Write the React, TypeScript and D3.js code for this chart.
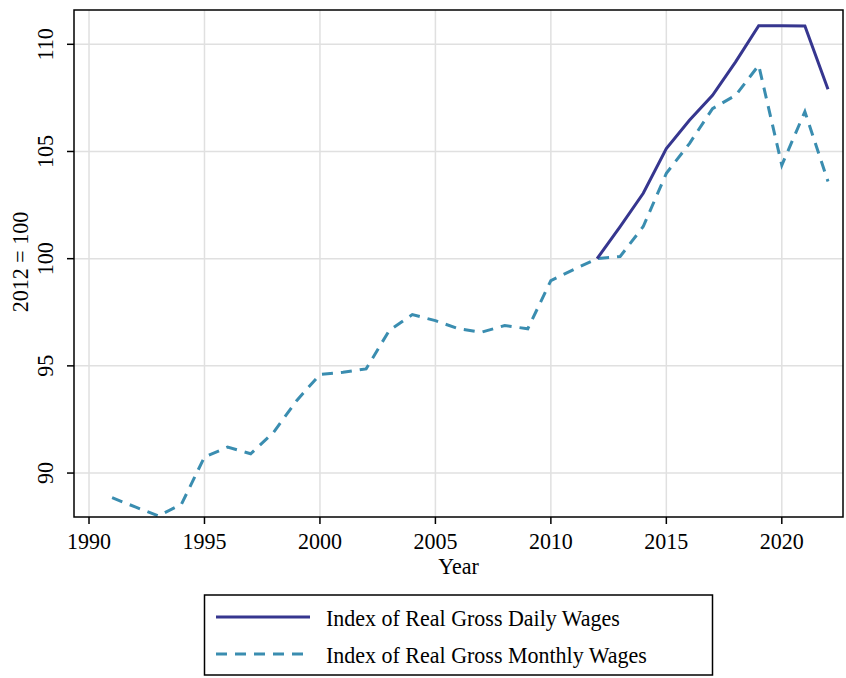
import * as d3 from "d3";

const years = d3.range(1991, 2023);
const monthly = [
  88.85, 88.42, 88.0, 88.54, 90.75, 91.21, 90.9, 91.91, 93.39, 94.6, 94.7,
  94.86, 96.65, 97.39, 97.11, 96.73, 96.57, 96.88, 96.73, 98.98, 99.5, 100.0,
  100.1, 101.5, 103.98, 105.37, 107.0, 107.62, 109.02, 104.36, 106.86, 103.6,
];
const dailyYears = d3.range(2012, 2023);
const daily = [
  100.0, 101.49, 103.05, 105.14, 106.46, 107.62, 109.18, 110.87, 110.87,
  110.85, 107.9,
];
const xTicks = [1990, 1995, 2000, 2005, 2010, 2015, 2020];
const yTicks = [90, 95, 100, 105, 110];
const legendLabels = [
  "Index of Real Gross Daily Wages",
  "Index of Real Gross Monthly Wages",
];

const W = 846,
  H = 678;
const left = 74,
  right = 843,
  top = 10,
  bottom = 517;
const font = "'Liberation Serif', 'Times New Roman', serif";
const dailyColor = "#36368f";
const monthlyColor = "#3a8db0";
const dash = "11,8";
const fs = 22;
// reference glyphs are a bit taller than wide
const stretch = "scale(1,1.07)";

export default function App() {
  const x = d3.scaleLinear().domain([1989.35, 2022.65]).range([left, right]);
  const y = d3.scaleLinear().domain([87.95, 111.6]).range([bottom, top]);

  const line = d3
    .line<[number, number]>()
    .x((d) => x(d[0]))
    .y((d) => y(d[1]));

  const monthlyPath = line(years.map((yr, i) => [yr, monthly[i]]));
  const dailyPath = line(dailyYears.map((yr, i) => [yr, daily[i]]));

  return (
    <svg
      width={W}
      height={H}
      style={{ position: "absolute", left: 0, top: 0, background: "#fff" }}
      fontFamily={font}
      fontSize={fs}
    >
      <rect width={W} height={H} fill="#fff" />
      {xTicks.map((t) => (
        <line
          key={"gx" + t}
          x1={x(t)}
          x2={x(t)}
          y1={top}
          y2={bottom}
          stroke="#e0e0e0"
          strokeWidth={1.5}
        />
      ))}
      {yTicks.map((t) => (
        <line
          key={"gy" + t}
          x1={left}
          x2={right}
          y1={y(t)}
          y2={y(t)}
          stroke="#e0e0e0"
          strokeWidth={1.5}
        />
      ))}
      <path
        d={monthlyPath || ""}
        fill="none"
        stroke={monthlyColor}
        strokeWidth={3}
        strokeDasharray={dash}
      />
      <path d={dailyPath || ""} fill="none" stroke={dailyColor} strokeWidth={3} />
      <rect
        x={left}
        y={top}
        width={right - left}
        height={bottom - top}
        fill="none"
        stroke="#000"
        strokeWidth={1.5}
      />
      {xTicks.map((t) => (
        <g key={"tx" + t}>
          <line
            x1={x(t)}
            x2={x(t)}
            y1={bottom}
            y2={bottom + 7}
            stroke="#000"
            strokeWidth={1.5}
          />
          <text
            transform={`translate(${x(t)},549) ${stretch}`}
            textAnchor="middle"
          >
            {t}
          </text>
        </g>
      ))}
      {yTicks.map((t) => (
        <g key={"ty" + t}>
          <line
            x1={left - 7}
            x2={left}
            y1={y(t)}
            y2={y(t)}
            stroke="#000"
            strokeWidth={1.5}
          />
          <text
            transform={`translate(53,${y(t)}) rotate(-90) ${stretch}`}
            textAnchor="middle"
          >
            {t}
          </text>
        </g>
      ))}
      <text
        transform={`translate(${(left + right) / 2},574) ${stretch}`}
        textAnchor="middle"
      >
        Year
      </text>
      <text
        transform={`translate(27.5,262) rotate(-90) ${stretch}`}
        textAnchor="middle"
      >
        2012 = 100
      </text>
      <rect
        x={204.5}
        y={595}
        width={508}
        height={80}
        fill="#fff"
        stroke="#000"
        strokeWidth={1.5}
      />
      {legendLabels.map((lab, i) => (
        <g key={lab} transform={`translate(0,${i * 37})`}>
          <line
            x1={216}
            x2={310}
            y1={617}
            y2={617}
            stroke={i === 0 ? dailyColor : monthlyColor}
            strokeWidth={3}
            strokeDasharray={i === 0 ? undefined : dash}
          />
          <text transform={`translate(326,626) ${stretch}`}>{lab}</text>
        </g>
      ))}
    </svg>
  );
}
